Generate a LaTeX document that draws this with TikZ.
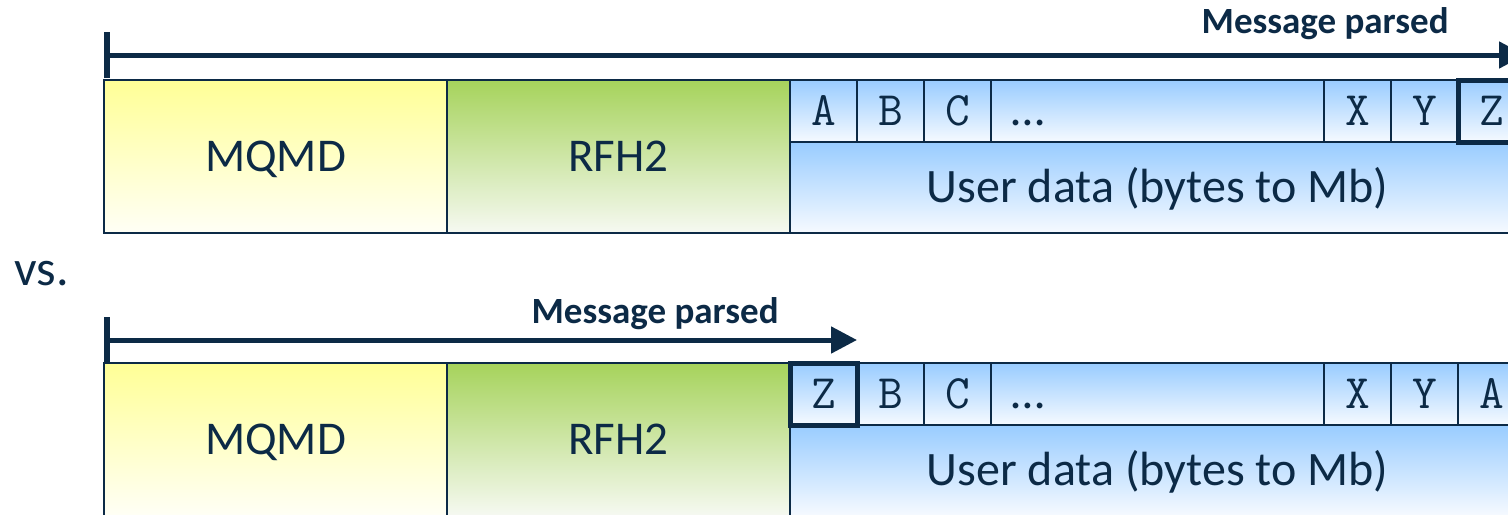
\documentclass[tikz,border=0pt]{standalone}
\usepackage{fontspec}
\setmainfont{Carlito}
\usetikzlibrary{positioning, arrows.meta}
\definecolor{navy}{RGB}{12,42,70}
\definecolor{mqyellow}{RGB}{255,255,150}
\definecolor{mqpale}{RGB}{255,255,246}
\definecolor{rfgreen}{RGB}{166,211,91}
\definecolor{rfpale}{RGB}{246,249,242}
\definecolor{udblue}{RGB}{153,204,255}
\definecolor{udpale}{RGB}{246,250,255}
\tikzset{
    hdr/.style={rectangle, draw=navy, line width=0.9pt, text=navy, outer sep=0pt, inner sep=0pt, minimum width=171.5pt, minimum height=76.5pt, text height=15pt, text depth=0pt, font=\fontsize{23.5}{28}\selectfont},
    mqmd/.style={hdr, top color=mqyellow, bottom color=mqpale},
    rfh/.style={hdr, top color=rfgreen, bottom color=rfpale},
    udata/.style={hdr, minimum width=367.5pt, minimum height=45.5pt, top color=udblue, bottom color=udpale, font=\fontsize{24}{28}\selectfont},
    cell/.style={rectangle, draw=navy, line width=0.7pt, text=navy, outer sep=0pt, inner sep=0pt, minimum width=33.5pt, minimum height=31pt, text height=14pt, text depth=0pt, top color=udblue, bottom color=udpale, font=\ttfamily\fontsize{24}{28}\selectfont},
    pcell/.style={cell, line width=2.5pt},
    dots/.style={cell, inner xsep=10pt, text width=146.5pt, align=left, font=\fontsize{24}{28}\selectfont},
    parsed/.style={text=navy, inner sep=0pt, font=\bfseries\fontsize{18.5}{22}\selectfont},
    vs/.style={text=navy, inner sep=0pt, font=\fontsize{25}{28}\selectfont},
    scan/.style={draw=navy, line width=2.5pt, {Bar[width=23pt, line width=3pt]}-{Triangle[length=13pt, width=13pt]}},
}

\begin{document}
\begin{tikzpicture}[x=0.5pt, y=-0.5pt]
    \useasboundingbox (0,0) rectangle (1508,514);
    % whole message parsed
    \node [mqmd] (mqmdA) [anchor=north west] at (104,80) {MQMD};
    \node [rfh] (rfhA) [right=0pt of mqmdA] {RFH2};
    \node [udata] (udA) [above right=0pt and 0pt of rfhA.south east] {User data (bytes to Mb)};
    \node [cell] (aA) [below right=0pt and 0pt of rfhA.north east] {A};
    \node [cell] (bA) [right=0pt of aA] {B};
    \node [cell] (cA) [right=0pt of bA] {C};
    \node [dots] (dA) [right=0pt of cA] {…};
    \node [cell] (xA) [right=0pt of dA] {X};
    \node [cell] (yA) [right=0pt of xA] {Y};
    \node [pcell] (zA) [right=0pt of yA] {Z};
    \coordinate (sA) at ([yshift=12.5pt]mqmdA.north west);
    \coordinate (eA) at ([yshift=12.5pt]zA.north east);
    \draw [scan] (sA) -- (eA);
    \node [parsed, anchor=base east] (lblA) at ([xshift=-38pt, yshift=11pt]eA) {Message parsed};

    \node [vs, anchor=base west] (vs) at (14,285) {vs.};

    % only first byte parsed
    \node [mqmd] (mqmdB) [anchor=north west] at (104,363) {MQMD};
    \node [rfh] (rfhB) [right=0pt of mqmdB] {RFH2};
    \node [udata] (udB) [above right=0pt and 0pt of rfhB.south east] {User data (bytes to Mb)};
    \node [cell] (bB) [below right=0pt and 33.5pt of rfhB.north east] {B};
    \node [cell] (cB) [right=0pt of bB] {C};
    \node [dots] (dB) [right=0pt of cB] {…};
    \node [cell] (xB) [right=0pt of dB] {X};
    \node [cell] (yB) [right=0pt of xB] {Y};
    \node [cell] (aB) [right=0pt of yB] {A};
    \node [pcell] (zB) [left=0pt of bB] {Z};
    \coordinate (sB) at ([yshift=11.5pt]mqmdB.north west);
    \coordinate (eB) at ([yshift=11.5pt]zB.north east);
    \draw [scan] (sB) -- (eB);
    \node [parsed, anchor=base east] (lblB) at ([xshift=-39pt, yshift=8.5pt]eB) {Message parsed};
\end{tikzpicture}
\end{document}
